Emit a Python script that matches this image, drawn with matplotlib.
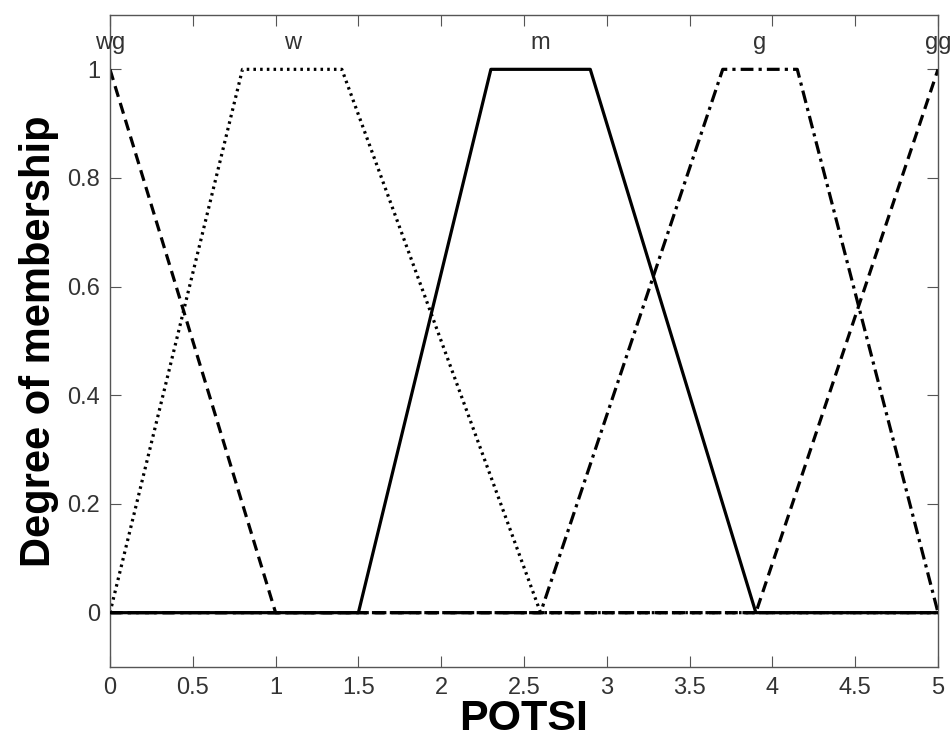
import numpy as np
import matplotlib
matplotlib.use("Agg")
import matplotlib.pyplot as plt

plt.rcParams['font.family'] = ['Liberation Sans', 'DejaVu Sans']

# trapezoid membership functions on POTSI [0, 5]
mf_names = ['wg', 'w', 'm', 'g', 'gg']
mf_params = [
    [-1.0, 0.0, 0.0, 1.0],
    [0.0, 0.8, 1.4, 2.6],
    [1.5, 2.3, 2.9, 3.9],
    [2.6, 3.7, 4.15, 5.0],
    [3.9, 5.0, 5.0, 6.0],
]
mf_styles = [(0, (3.5, 2)), (0, (0.8, 1.3)), '-', (0, (4, 1.6, 1, 1.6)), (0, (3.5, 2))]
x_range = [0, 5]
x_ticks = [0, 0.5, 1, 1.5, 2, 2.5, 3, 3.5, 4, 4.5, 5]
x_tick_labels = ['0', '0.5', '1', '1.5', '2', '2.5', '3', '3.5', '4', '4.5', '5']
y_ticks = [0, 0.2, 0.4, 0.6, 0.8, 1]
y_tick_labels = ['0', '0.2', '0.4', '0.6', '0.8', '1']


def trapmf(x, p):
    a, b, c, d = p
    y = np.zeros_like(x)
    for i, v in enumerate(x):
        if v < a or v > d:
            y[i] = 0.0
        elif b <= v <= c:
            y[i] = 1.0
        elif v < b:
            y[i] = (v - a) / (b - a)
        else:
            y[i] = (d - v) / (d - c)
    return y


fig = plt.figure(figsize=(9.53, 7.46), dpi=100)
ax = fig.add_axes([0.1154, 0.1059, 0.8689, 0.8740])

xs = np.linspace(x_range[0], x_range[1], 1001)
for name, p, ls in zip(mf_names, mf_params, mf_styles):
    ys = trapmf(xs, p)
    # solid line on top, like the original plot
    z = 3 if ls == '-' else 2
    ax.plot(xs, ys, color='black', linestyle=ls, linewidth=2.3, zorder=z)
    peak = (max(p[1], x_range[0]) + min(p[2], x_range[1])) / 2
    ax.text(peak, 1.037, name, ha='center', va='baseline', fontsize=17, color='#333333')

ax.set_xlim(x_range)
ax.set_ylim(-0.1, 1.1)
ax.set_xticks(x_ticks)
ax.set_xticklabels(x_tick_labels)
ax.set_yticks(y_ticks)
ax.set_yticklabels(y_tick_labels)
ax.tick_params(direction='in', length=8, width=0.8, top=True, right=True,
               labelsize=17, labelcolor='#333333', color='#555555', pad=7)
for sp in ax.spines.values():
    sp.set_color('#555555')
    sp.set_linewidth(1.0)

ax.set_xlabel('POTSI', fontsize=31, fontweight='bold', labelpad=0)
ax.set_ylabel('Degree of membership', fontsize=30, fontweight='bold', labelpad=6)

fig.savefig('out.png', dpi=100)
